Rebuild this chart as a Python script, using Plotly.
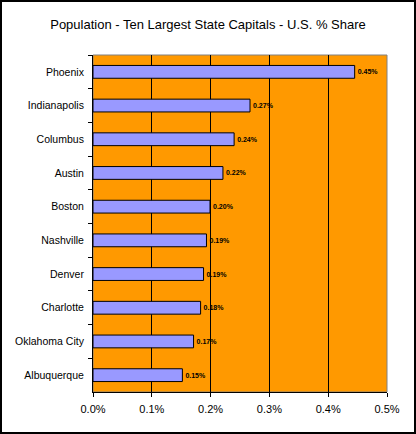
import plotly.graph_objects as go

cities = ["Phoenix", "Indianapolis", "Columbus", "Austin", "Boston",
          "Nashville", "Denver", "Charlotte", "Oklahoma City", "Albuquerque"]
share = [0.445, 0.267, 0.240, 0.221, 0.199, 0.193, 0.188, 0.183, 0.171, 0.152]
x_ticks = [0.0, 0.1, 0.2, 0.3, 0.4, 0.5]
x_tick_labels = ["0.0%", "0.1%", "0.2%", "0.3%", "0.4%", "0.5%"]

fig = go.Figure(go.Bar(
    x=share,
    y=cities,
    orientation="h",
    width=0.38,
    marker=dict(color="#9999FF", line=dict(color="#000000", width=1)),
    text=[f"{v:.2f}%" for v in share],
    textposition="outside",
    textfont=dict(family="Arial", size=7, color="black", weight="bold"),
    cliponaxis=False,
    constraintext="none",
    hoverinfo="skip",
))

fig.update_layout(
    width=416, height=434,
    margin=dict(l=93, r=29, t=55, b=42),
    paper_bgcolor="white",
    plot_bgcolor="#FF9900",
    showlegend=False,
    title=dict(text="Population - Ten Largest State Capitals - U.S. % Share",
               x=0.5, xanchor="center", y=1 - 24 / 434, yanchor="middle",
               font=dict(family="Arial", size=13, color="black")),
    font=dict(family="Arial", size=11, color="black"),
    xaxis=dict(range=[0, 0.5], tickmode="array", tickvals=x_ticks, ticktext=x_tick_labels,
               showgrid=True, gridcolor="black", gridwidth=1, zeroline=False,
               showline=True, linecolor="black", linewidth=1,
               ticks="outside", ticklen=4, tickcolor="black",
               ticklabelstandoff=3, fixedrange=True),
    yaxis=dict(categoryorder="array", categoryarray=cities, autorange="reversed",
               showgrid=False, showline=True, linecolor="black", linewidth=1,
               ticks="outside", tickson="boundaries", ticklen=4, tickcolor="black",
               tickfont=dict(size=10.5), ticklabelstandoff=6, fixedrange=True),
    shapes=[
        dict(type="rect", xref="x domain", yref="y domain", x0=0, x1=1, y0=0, y1=1,
             line=dict(color="#808080", width=1), layer="below"),
        dict(type="rect", xref="paper", yref="paper",
             x0=(1 - 93) / 294, x1=(415 - 93) / 294,
             y0=(392 - 433) / 337, y1=(392 - 1) / 337,
             line=dict(color="black", width=2)),
    ],
)

fig.write_html("out.html", config={"displayModeBar": False},
               post_script="document.body.style.margin='0';document.body.style.overflow='hidden';")
